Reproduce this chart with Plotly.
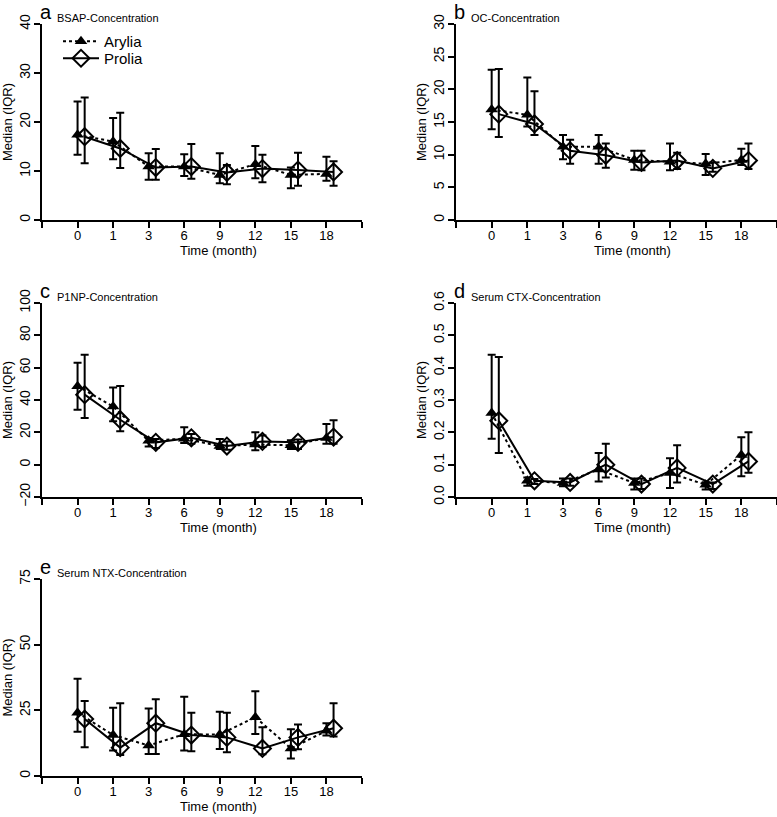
import plotly.graph_objects as go
from plotly.subplots import make_subplots

# --- data (medians and IQR) ---
months = ["0", "1", "3", "6", "9", "12", "15", "18"]

bsap_arylia_med = [17.4, 16.0, 10.9, 10.9, 9.2, 11.4, 9.2, 9.4]
bsap_arylia_q1 = [13.3, 12.4, 8.2, 9.0, 7.5, 8.5, 6.5, 8.0]
bsap_arylia_q3 = [24.2, 20.8, 13.6, 13.4, 13.6, 15.1, 10.7, 12.9]
bsap_prolia_med = [17.0, 14.6, 10.7, 10.9, 9.7, 10.5, 10.2, 9.8]
bsap_prolia_q1 = [11.6, 10.6, 8.2, 8.4, 7.3, 7.7, 7.0, 7.0]
bsap_prolia_q3 = [25.0, 21.9, 14.5, 15.5, 11.2, 13.3, 13.7, 12.0]

oc_arylia_med = [16.9, 16.1, 11.2, 11.2, 9.2, 8.9, 8.6, 9.2]
oc_arylia_q1 = [13.9, 14.3, 9.3, 8.6, 7.7, 7.6, 6.9, 8.4]
oc_arylia_q3 = [23.0, 21.8, 13.0, 13.0, 10.6, 11.7, 10.1, 10.9]
oc_prolia_med = [16.2, 14.7, 10.6, 9.9, 8.8, 9.1, 7.9, 9.1]
oc_prolia_q1 = [12.7, 13.0, 8.6, 8.0, 7.6, 7.8, 7.4, 7.8]
oc_prolia_q3 = [23.1, 19.7, 12.3, 11.7, 10.6, 10.3, 8.8, 11.7]

p1np_arylia_med = [48.5, 36.0, 14.8, 16.1, 11.5, 12.4, 12.0, 16.5]
p1np_arylia_q1 = [34.0, 26.8, 11.3, 13.4, 9.7, 8.9, 9.7, 13.0]
p1np_arylia_q3 = [63.0, 47.8, 16.5, 23.1, 15.9, 20.0, 15.1, 25.2]
p1np_prolia_med = [43.3, 27.8, 13.8, 16.6, 11.5, 14.4, 13.8, 17.1]
p1np_prolia_q1 = [28.9, 20.6, 10.3, 13.0, 9.3, 10.9, 9.7, 13.0]
p1np_prolia_q3 = [68.0, 48.7, 15.9, 19.0, 14.4, 18.1, 15.5, 27.4]

ctx_arylia_med = [0.26, 0.050, 0.043, 0.085, 0.043, 0.074, 0.038, 0.130]
ctx_arylia_q1 = [0.18, 0.035, 0.033, 0.048, 0.023, 0.028, 0.023, 0.064]
ctx_arylia_q3 = [0.44, 0.060, 0.057, 0.136, 0.057, 0.120, 0.046, 0.185]
ctx_prolia_med = [0.236, 0.050, 0.045, 0.100, 0.040, 0.090, 0.040, 0.110]
ctx_prolia_q1 = [0.136, 0.040, 0.035, 0.060, 0.025, 0.045, 0.025, 0.075]
ctx_prolia_q3 = [0.433, 0.056, 0.057, 0.165, 0.057, 0.160, 0.045, 0.200]

ntx_arylia_med = [24.1, 15.6, 11.6, 15.9, 15.8, 22.4, 10.5, 17.2]
ntx_arylia_q1 = [16.8, 9.7, 8.4, 9.7, 10.3, 16.0, 6.7, 15.4]
ntx_arylia_q3 = [37.0, 26.0, 25.7, 30.2, 24.5, 32.3, 17.8, 20.1]
ntx_prolia_med = [21.7, 10.8, 20.1, 15.6, 14.7, 10.5, 14.7, 18.2]
ntx_prolia_q1 = [10.9, 8.0, 8.4, 9.4, 9.0, 8.3, 10.2, 15.0]
ntx_prolia_q3 = [28.6, 27.7, 29.2, 24.1, 24.1, 18.6, 19.6, 27.7]

W, H = 777, 817
FONT = "Liberation Sans, Arial, sans-serif"


def px(x):
    return x / W


def py(y):
    return 1 - y / H


panels = [
    dict(row=1, col=1, letter="a", name="BSAP-Concentration", yr=[0, 40], dt=10, fmt="",
         ary=(bsap_arylia_med, bsap_arylia_q1, bsap_arylia_q3),
         pro=(bsap_prolia_med, bsap_prolia_q1, bsap_prolia_q3)),
    dict(row=1, col=2, letter="b", name="OC-Concentration", yr=[0, 30], dt=5, fmt="",
         ary=(oc_arylia_med, oc_arylia_q1, oc_arylia_q3),
         pro=(oc_prolia_med, oc_prolia_q1, oc_prolia_q3)),
    dict(row=2, col=1, letter="c", name="P1NP-Concentration", yr=[-20, 100], dt=20, fmt="",
         ary=(p1np_arylia_med, p1np_arylia_q1, p1np_arylia_q3),
         pro=(p1np_prolia_med, p1np_prolia_q1, p1np_prolia_q3)),
    dict(row=2, col=2, letter="d", name="Serum CTX-Concentration", yr=[0, 0.6], dt=0.1, fmt=".1f",
         ary=(ctx_arylia_med, ctx_arylia_q1, ctx_arylia_q3),
         pro=(ctx_prolia_med, ctx_prolia_q1, ctx_prolia_q3)),
    dict(row=3, col=1, letter="e", name="Serum NTX-Concentration", yr=[0, 75], dt=25, fmt="",
         ary=(ntx_arylia_med, ntx_arylia_q1, ntx_arylia_q3),
         pro=(ntx_prolia_med, ntx_prolia_q1, ntx_prolia_q3)),
]

# pixel geometry of each plot box (left, right, top, bottom)
x_dom = {1: (42, 362), 2: (456, 777)}
y_dom = {1: (24, 220), 2: (303, 497), 3: (579, 776)}

fig = make_subplots(rows=3, cols=2,
                    specs=[[{}, {}], [{}, {}], [{}, None]])

x_idx = list(range(len(months)))
x_pro = [i + 0.2 for i in x_idx]

for k, p in enumerate(panels):
    r, c = p["row"], p["col"]
    med, q1, q3 = p["ary"]
    fig.add_trace(go.Scatter(
        x=x_idx, y=med, mode="lines+markers", name="Arylia",
        showlegend=(k == 0), legend="legend",
        line=dict(color="black", width=2, dash="dot"),
        marker=dict(symbol="triangle-up", size=11, color="black"),
        error_y=dict(type="data", symmetric=False,
                     array=[b - a for a, b in zip(med, q3)],
                     arrayminus=[a - b for a, b in zip(med, q1)],
                     color="black", thickness=2, width=4),
    ), row=r, col=c)
    med, q1, q3 = p["pro"]
    fig.add_trace(go.Scatter(
        x=x_pro, y=med, mode="lines+markers", name="Prolia",
        showlegend=(k == 0), legend="legend2",
        line=dict(color="black", width=2),
        marker=dict(symbol="diamond-open", size=13, color="black",
                    line=dict(width=2, color="black")),
        error_y=dict(type="data", symmetric=False,
                     array=[b - a for a, b in zip(med, q3)],
                     arrayminus=[a - b for a, b in zip(med, q1)],
                     color="black", thickness=2, width=4),
    ), row=r, col=c)

    l, rr = x_dom[c]
    t, b = y_dom[r]
    fig.update_xaxes(
        domain=[px(l), min(px(rr), 1.0)], range=[-1, 8], automargin=False,
        tickvals=[-1] + x_idx + [8], ticktext=[""] + months + [""],
        showline=True, linecolor="black", linewidth=2,
        ticks="outside", ticklen=6, tickwidth=2, tickcolor="black",
        ticklabelstandoff=-4,
        showgrid=False, zeroline=False,
        tickfont=dict(family=FONT, size=13, color="black"),
        row=r, col=c)
    fig.update_yaxes(
        domain=[py(b), py(t)], range=p["yr"], dtick=p["dt"], tick0=0, automargin=False,
        tickformat=p["fmt"], tickangle=-90,
        showline=True, linecolor="black", linewidth=2,
        ticks="outside", ticklen=6, tickwidth=2, tickcolor="black",
        ticklabelstandoff=-2,
        showgrid=False, zeroline=False,
        tickfont=dict(family=FONT, size=14, color="black"),
        row=r, col=c)

    # panel letter and name
    fig.add_annotation(text=p["letter"], x=px(l - 4), y=py(t - 12), xref="paper", yref="paper",
                       xanchor="left", yanchor="middle", showarrow=False,
                       font=dict(family=FONT, size=20, color="black"))
    fig.add_annotation(text=p["name"], x=px(l + 13), y=py(t - 6), xref="paper", yref="paper",
                       xanchor="left", yanchor="middle", showarrow=False,
                       font=dict(family=FONT, size=11, color="black"))
    # axis titles
    fig.add_annotation(text="Time (month)", x=px((l + rr) / 2 + 16), y=py(b + 30),
                       xref="paper", yref="paper", xanchor="center", yanchor="middle",
                       showarrow=False, font=dict(family=FONT, size=13, color="black"))
    fig.add_annotation(text="Median (IQR)", x=px(l - 35), y=py((t + b) / 2),
                       xref="paper", yref="paper", xanchor="center", yanchor="middle",
                       textangle=-90, showarrow=False,
                       font=dict(family=FONT, size=13, color="black"))

fig.update_layout(
    width=W, height=H,
    margin=dict(l=0, r=0, t=0, b=0, autoexpand=False),
    plot_bgcolor="white", paper_bgcolor="white",
    showlegend=True,
    legend=dict(x=px(58), y=py(25), xanchor="left", yanchor="top", itemwidth=36,
                bgcolor="rgba(0,0,0,0)",
                font=dict(family=FONT, size=15, color="black")),
    legend2=dict(x=px(58), y=py(42), xanchor="left", yanchor="top", itemwidth=36,
                 bgcolor="rgba(0,0,0,0)",
                 font=dict(family=FONT, size=15, color="black")),
)

# the page body has a default 8px margin; drop it so the figure sits at the corner
fig.write_html("out.html", config={"displayModeBar": False},
               post_script="document.body.style.margin='0';")
